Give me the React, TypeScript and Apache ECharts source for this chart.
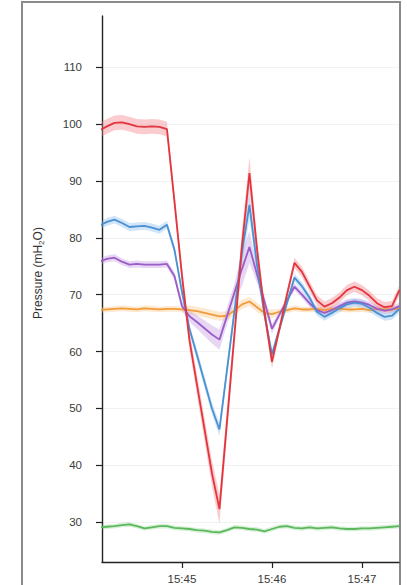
import React, { useEffect, useRef } from "react";
import * as echarts from "echarts";

// seconds after 15:44:00
const times = [5, 10, 15, 20, 25, 30, 35, 40, 45, 50, 55, 60, 65, 70, 75, 80, 85, 90, 95, 100, 105, 110, 115, 120, 125, 130, 135, 140, 145, 150, 155, 160, 165, 170, 175, 180, 185, 190, 195, 200, 205];

const redValues = [98.9, 99.6, 100.2, 100.3, 100.0, 99.6, 99.5, 99.6, 99.5, 99.1, 86.4, 73.4, 62.0, 54.2, 46.4, 38.6, 32.3, 47.6, 63.0, 78.6, 91.4, 78.1, 67.0, 58.2, 64.0, 70.0, 75.6, 74.0, 71.5, 69.0, 67.9, 68.5, 69.5, 70.8, 71.4, 70.8, 69.8, 68.5, 67.8, 68.0, 70.8];
const redSpread = [1.3, 1.3, 1.3, 1.3, 1.3, 1.3, 1.3, 1.3, 1.3, 1.3, 1.5, 1.5, 1.6, 1.8, 2.0, 2.3, 2.6, 2.4, 2.0, 2.6, 2.8, 2.0, 1.5, 1.2, 0.9, 0.9, 0.9, 0.9, 0.9, 0.9, 0.9, 0.9, 0.9, 0.9, 0.9, 0.9, 0.9, 0.9, 0.9, 0.9, 0.9];

const blueValues = [82.1, 82.8, 83.2, 82.6, 81.9, 82.0, 82.1, 81.8, 81.4, 82.3, 77.9, 70.5, 64.0, 59.4, 54.7, 50.0, 46.3, 56.7, 67.1, 77.5, 85.8, 75.3, 66.5, 59.5, 64.0, 68.5, 73.0, 71.5, 69.5, 67.0, 66.1, 66.8, 67.6, 68.3, 68.6, 68.4, 67.7, 66.8, 66.1, 66.3, 67.5];
const blueSpread = [0.7, 0.7, 0.7, 0.7, 0.7, 0.7, 0.7, 0.7, 0.7, 0.7, 0.8, 0.8, 0.8, 0.9, 1.0, 1.0, 1.2, 1.2, 1.5, 2.5, 2.5, 1.5, 1.0, 0.9, 0.7, 0.7, 0.7, 0.7, 0.7, 0.7, 0.7, 0.7, 0.7, 0.7, 0.7, 0.7, 0.7, 0.7, 0.7, 0.7, 0.7];

const purpleValues = [75.8, 76.3, 76.5, 75.8, 75.3, 75.4, 75.3, 75.3, 75.3, 75.4, 73.3, 68.0, 66.2, 65.2, 64.1, 63.0, 62.1, 66.2, 70.4, 74.5, 78.4, 73.6, 68.8, 64.0, 66.5, 69.0, 71.4, 70.0, 68.5, 67.3, 66.8, 67.3, 68.0, 68.6, 68.8, 68.6, 68.2, 67.5, 67.2, 67.4, 68.0];
const purpleSpread = [0.6, 0.6, 0.6, 0.6, 0.6, 0.6, 0.6, 0.6, 0.6, 0.6, 0.7, 0.8, 1.0, 1.2, 1.4, 1.6, 1.8, 1.5, 1.5, 3.0, 2.8, 1.5, 1.0, 0.9, 0.6, 0.6, 0.6, 0.6, 0.6, 0.6, 0.6, 0.6, 0.6, 0.6, 0.6, 0.6, 0.6, 0.6, 0.6, 0.6, 0.6];

const orangeValues = [67.3, 67.4, 67.5, 67.6, 67.5, 67.4, 67.6, 67.5, 67.4, 67.5, 67.5, 67.4, 67.3, 67.1, 66.8, 66.5, 66.2, 66.3, 67.2, 68.3, 68.8, 67.8, 66.8, 66.6, 67.0, 67.3, 67.6, 67.4, 67.4, 67.5, 67.3, 67.5, 67.5, 67.4, 67.4, 67.5, 67.3, 67.5, 67.4, 67.4, 67.6];
const orangeSpread = [0.5, 0.5, 0.5, 0.5, 0.5, 0.5, 0.5, 0.5, 0.5, 0.5, 0.5, 0.5, 0.8, 0.8, 0.8, 0.8, 0.8, 0.8, 0.8, 0.8, 0.8, 0.8, 0.8, 0.8, 0.5, 0.5, 0.5, 0.5, 0.5, 0.5, 0.5, 0.5, 0.5, 0.5, 0.5, 0.5, 0.5, 0.5, 0.5, 0.5, 0.5];

const greenValues = [29.1, 29.2, 29.3, 29.5, 29.6, 29.3, 28.9, 29.1, 29.3, 29.3, 29.0, 28.9, 28.8, 28.6, 28.5, 28.3, 28.2, 28.6, 29.1, 29.0, 28.8, 28.7, 28.4, 28.8, 29.2, 29.3, 29.0, 28.9, 29.1, 28.9, 29.0, 29.1, 28.9, 28.8, 28.8, 28.9, 28.9, 29.0, 29.1, 29.2, 29.3];
const greenSpread = [0.4, 0.4, 0.4, 0.4, 0.4, 0.4, 0.4, 0.4, 0.4, 0.4, 0.4, 0.4, 0.4, 0.4, 0.4, 0.4, 0.4, 0.4, 0.4, 0.4, 0.4, 0.4, 0.4, 0.4, 0.4, 0.4, 0.4, 0.4, 0.4, 0.4, 0.4, 0.4, 0.4, 0.4, 0.4, 0.4, 0.4, 0.4, 0.4, 0.4, 0.4];

const yTicks = [30, 40, 50, 60, 70, 80, 90, 100, 110];
const xTickLabels = ["15:45", "15:46", "15:47"];
const axisName = "Pressure (mH{sub|2}O)";

const seriesDefs = [
  { name: "green", values: greenValues, spread: greenSpread, line: "#5cb85c", band: "rgba(120,200,120,0.28)" },
  { name: "orange", values: orangeValues, spread: orangeSpread, line: "#f29b38", band: "rgba(250,190,120,0.35)" },
  { name: "purple", values: purpleValues, spread: purpleSpread, line: "#9a5cc6", band: "rgba(185,140,225,0.35)" },
  { name: "blue", values: blueValues, spread: blueSpread, line: "#4a90d2", band: "rgba(120,180,235,0.35)" },
  { name: "red", values: redValues, spread: redSpread, line: "#e2353d", band: "rgba(242,120,130,0.38)" },
];

const FONT = "'Liberation Sans', Arial, sans-serif";

export default function App() {
  const ref = useRef<HTMLDivElement>(null);
  useEffect(() => {
    if (!ref.current) return;
    const chart = echarts.init(ref.current, null, { renderer: "svg" });

    const bandSeries = {
      type: "custom",
      clip: true,
      silent: true,
      z: 1,
      data: seriesDefs.map((_, i) => [i]),
      encode: { x: -1, y: -1 },
      renderItem: (params: any, api: any) => {
        const def = seriesDefs[params.dataIndex];
        const upper = times.map((t, i) => api.coord([t, def.values[i] + def.spread[i]]));
        const lower = times.map((t, i) => api.coord([t, def.values[i] - def.spread[i]])).reverse();
        return {
          type: "polygon",
          shape: { points: upper.concat(lower) },
          style: { fill: def.band, stroke: "none" },
        };
      },
    };

    const lineSeries = seriesDefs.map((d) => ({
      type: "line",
      name: d.name,
      z: 2,
      data: times.map((t, i) => [t, d.values[i]]),
      symbol: "none",
      smooth: false,
      clip: true,
      lineStyle: { color: d.line, width: 1.8 },
      silent: true,
    }));

    chart.setOption({
      animation: false,
      grid: { left: 102, right: 8, top: 16, bottom: 22 },
      xAxis: {
        type: "value",
        min: 6.7,
        max: 204.7,
        minInterval: 60,
        maxInterval: 60,
        axisLine: { lineStyle: { color: "#222", width: 1.4 } },
        axisTick: { show: true, length: 6, lineStyle: { color: "#222", width: 1.2 } },
        splitLine: { show: false },
        axisLabel: {
          showMinLabel: false,
          showMaxLabel: false,
          margin: 11,
          fontSize: 11.5,
          fontFamily: FONT,
          color: "#3a3a3a",
          formatter: (v: number) => {
            const idx = Math.round(v / 60) - 1;
            return xTickLabels[idx] ?? "";
          },
        },
      },
      yAxis: {
        type: "value",
        min: 23,
        max: 119,
        minInterval: 10,
        maxInterval: 10,
        axisLine: { show: true, lineStyle: { color: "#222", width: 1.4 } },
        axisTick: { show: true, length: 6, lineStyle: { color: "#222", width: 1.2 } },
        splitLine: { show: true, showMinLine: false, showMaxLine: false, lineStyle: { color: "#f2f2f2", width: 1 } },
        axisLabel: {
          showMinLabel: false,
          showMaxLabel: false,
          margin: 20,
          fontSize: 11.5,
          fontFamily: FONT,
          color: "#3a3a3a",
          formatter: (v: number) => (yTicks.indexOf(Math.round(v)) >= 0 ? String(Math.round(v)) : ""),
        },
      },
      graphic: [
        {
          type: "rect",
          z: 0,
          silent: true,
          shape: { x: 22, y: 2, width: 378, height: 620 },
          style: { fill: "none", stroke: "#8a8a8a", lineWidth: 2 },
        },
        {
          type: "text",
          x: 38,
          y: 273,
          rotation: Math.PI / 2,
          silent: true,
          style: {
            text: axisName,
            align: "center",
            verticalAlign: "middle",
            fontSize: 12,
            fontFamily: FONT,
            fill: "#333",
            rich: {
              sub: { fontSize: 8, fontFamily: FONT, fill: "#333", verticalAlign: "bottom", padding: [6, 0, 0, 0] },
            },
          },
        },
      ],
      series: [bandSeries, ...lineSeries],
    });
    return () => chart.dispose();
  }, []);
  return <div ref={ref} style={{ position: "fixed", left: 0, top: 0, width: 407, height: 585, background: "#fff" }} />;
}
